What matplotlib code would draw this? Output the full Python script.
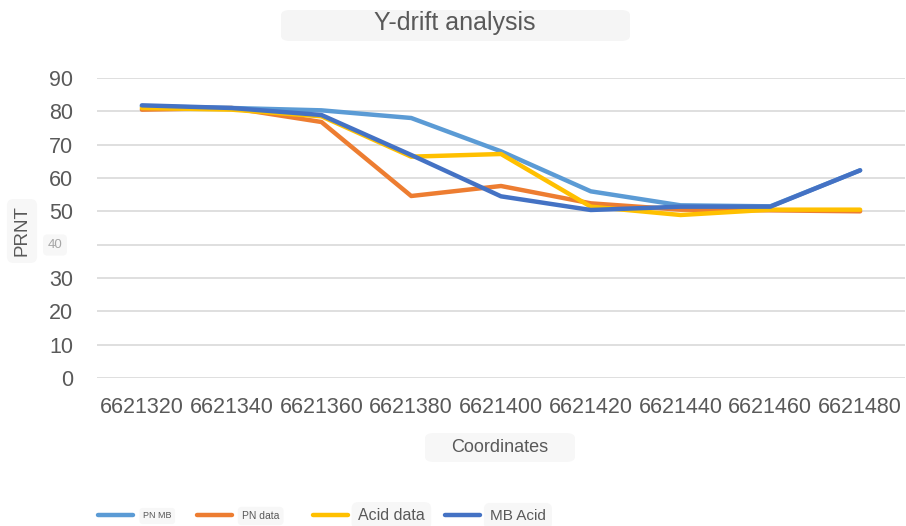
import matplotlib
matplotlib.use("Agg")
import matplotlib.pyplot as plt
from matplotlib.patches import FancyBboxPatch

plt.rcParams['font.family'] = ['Liberation Sans', 'DejaVu Sans']

categories = ["6621320", "6621340", "6621360", "6621380", "6621400",
              "6621420", "6621440", "6621460", "6621480"]
pn_mb = [81.5, 81.0, 80.3, 78.0, 68.0, 56.0, 51.8, 51.5, 62.3]
pn_data = [80.5, 81.0, 76.8, 54.6, 57.6, 52.4, 50.5, 50.3, 50.0]
acid_data = [81.0, 80.5, 78.5, 66.4, 67.2, 51.4, 48.9, 50.5, 50.5]
mb_acid = [81.8, 81.0, 78.9, 66.9, 54.5, 50.4, 51.4, 51.4, 62.3]
series_names = ["PN MB", "PN data", "Acid data", "MB Acid"]
series_colors = ["#5B9BD5", "#ED7D31", "#FFC000", "#4472C4"]
yticks = [0, 10, 20, 30, 40, 50, 60, 70, 80, 90]
ytick_labels = ["0", "10", "20", "30", "40", "50", "60", "70", "80", "90"]

W, H = 906, 526
fig = plt.figure(figsize=(W / 100, H / 100), dpi=100)
ax = fig.add_axes([97 / W, 1 - 378 / H, (905 - 97) / W, 300 / H])

x = list(range(len(categories)))
all_series = [pn_mb, pn_data, acid_data, mb_acid]
lines = []
for vals, name, col in zip(all_series, series_names, series_colors):
    ln, = ax.plot(x, vals, color=col, lw=3.2, solid_capstyle='round',
                  solid_joinstyle='round', label=name)
    lines.append(ln)

ax.set_xlim(-0.5, len(categories) - 0.5)
ax.set_ylim(0, 90)
ax.set_yticks(yticks)
ax.set_yticklabels(ytick_labels)
ax.set_xticks(x)
ax.set_xticklabels(categories)
ax.grid(axis='y', color='#D9D9D9', lw=1.2)
ax.set_axisbelow(True)
for s in ax.spines.values():
    s.set_visible(False)
ax.tick_params(axis='both', length=0, colors='#595959', labelsize=15.5)
ax.tick_params(axis='y', pad=17)
ax.tick_params(axis='x', pad=14)

# odd-looking "40" label
for t in ax.get_yticklabels():
    if t.get_text() == "40":
        t.set_visible(False)
fig.text(55 / W, 1 - 245 / H, "40", fontsize=9.5, color='#A6A6A6',
         ha='center', va='center',
         bbox=dict(boxstyle='round,pad=0.35', fc='#F7F7F7', ec='none'))

# title
fig.text(455 / W, 1 - 23 / H, "Y-drift analysis", fontsize=18, color='#595959',
         ha='center', va='center')
fig.patches.append(FancyBboxPatch((281 / W, 1 - 41 / H), 349 / W, 31 / H,
                                  boxstyle='round,pad=0,rounding_size=0.01',
                                  transform=fig.transFigure, fc='#F5F5F5', ec='none', zorder=0))

# axis labels
fig.text(500 / W, 1 - 447 / H, "Coordinates", fontsize=13, color='#595959',
         ha='center', va='center')
fig.patches.append(FancyBboxPatch((425 / W, 1 - 462 / H), 150 / W, 29 / H,
                                  boxstyle='round,pad=0,rounding_size=0.01',
                                  transform=fig.transFigure, fc='#F7F7F7', ec='none', zorder=0))
fig.text(22 / W, 1 - 231 / H, "PRNT", fontsize=13.5, color='#595959',
         ha='center', va='center', rotation=90,
         bbox=dict(boxstyle='round,pad=0.35', fc='#F7F7F7', ec='none'))

# legend (one entry each, mimicking the odd sizes)
leg_x = [98, 197, 313, 445]
leg_size = [6.5, 7.5, 11.5, 11.0]
for ln, name, lx, fs in zip(lines, series_names, leg_x, leg_size):
    fpx = fs * 100 / 72
    leg = fig.legend(handles=[ln], labels=[name], loc='center left',
                     bbox_to_anchor=(lx / W, 1 - 516 / H), frameon=False,
                     prop={'size': fs}, handlelength=35 / fpx,
                     handletextpad=10 / fpx, borderpad=0, borderaxespad=0)
    for t in leg.get_texts():
        t.set_color('#595959')
        t.set_bbox(dict(boxstyle='round,pad=0.4', fc='#F7F7F7', ec='none'))
    for h in leg.legend_handles:
        h.set_linewidth(3.2)

fig.savefig("out.png", dpi=100)
